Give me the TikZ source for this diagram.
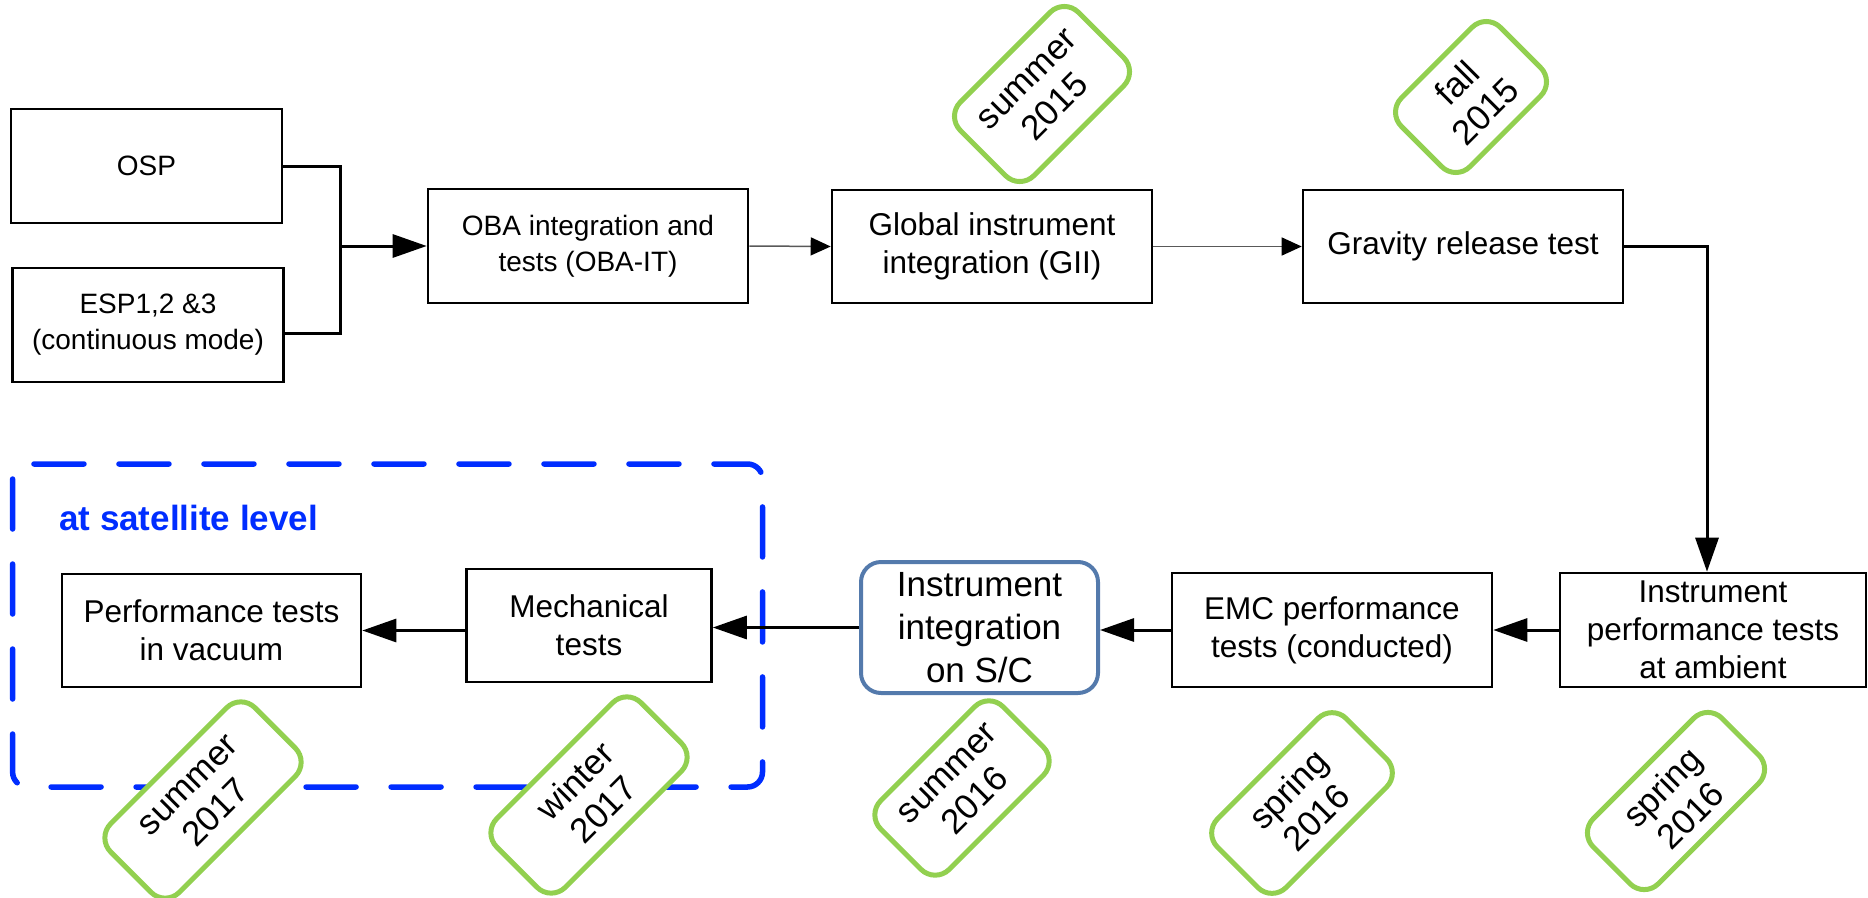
\documentclass[tikz,border=0pt]{standalone}
\usepackage{fontspec}
\setmainfont{Liberation Sans}
\usetikzlibrary{arrows.meta}
\definecolor{taggreen}{RGB}{146,208,80}
\definecolor{scblue}{RGB}{84,122,172}
\definecolor{satblue}{RGB}{0,45,255}
\begin{document}
\begin{tikzpicture}[x=1pt,y=-1pt,
  box/.style={draw=black, line width=2.6pt, align=center, inner sep=0pt,
    font=\fontsize{31.5}{38}\selectfont},
  smallbox/.style={box, font=\fontsize{28}{36}\selectfont},
  tag/.style={draw=taggreen, fill=white, line width=5pt, rounded corners=20pt,
    rotate=45, align=center, inner sep=0pt, minimum height=97pt,
    font=\fontsize{35}{40}\selectfont},
  arr/.style={line width=3pt, -{Triangle[length=34pt,width=23pt]}},
  thinarr/.style={line width=1.5pt, draw=black!65,
    -{Triangle[length=20pt,width=18pt,color=black]}}]
\useasboundingbox (0,0) rectangle (1868,897);

% satellite-level container
\draw[satblue, line width=5.5pt, dash pattern=on 50pt off 35pt, line cap=round,
  rounded corners=15pt] (12.6,464) rectangle (762.5,787);
\node[anchor=base west, text=satblue, inner sep=0pt,
  font=\fontsize{35}{40}\selectfont\bfseries] (sat) at (59,530) {at satellite level};

% top row
\node[smallbox, minimum width=271pt, minimum height=114pt] (osp) at (146.5,166) {OSP};
\node[smallbox, minimum width=271pt, minimum height=114pt] (esp) at (148,325)
  {ESP1,2 \&3\\(continuous mode)};
\node[smallbox, minimum width=320pt, minimum height=114pt] (oba) at (588,246)
  {OBA integration and\\tests (OBA-IT)};
\node[box, minimum width=320pt, minimum height=113pt] (gii) at (992,246.5)
  {Global instrument\\integration (GII)};
\node[box, minimum width=320pt, minimum height=113pt] (grav) at (1463,246.5)
  {Gravity release test};

% bottom row
\node[box, minimum width=306pt, minimum height=114pt] (ipt) at (1713,630)
  {Instrument\\performance tests\\at ambient};
\node[box, minimum width=320pt, minimum height=114pt] (emc) at (1332,630)
  {EMC performance\\tests (conducted)};
\node[box, draw=scblue, line width=4pt, rounded corners=20pt, minimum width=237pt,
  minimum height=131pt, font=\fontsize{35}{43}\selectfont] (sc) at (979.5,627.5)
  {Instrument\\integration\\on S/C};
\node[box, minimum width=245pt, minimum height=113pt] (mech) at (589,625.5)
  {Mechanical\\tests};
\node[box, minimum width=299pt, minimum height=113pt] (perf) at (211.5,630.5)
  {Performance tests\\in vacuum};

% connectors
\coordinate (bus) at (340,246);
\draw[line width=3pt] (osp.east) -| (bus);
\draw[line width=3pt] ([yshift=-8pt]esp.east) -| (bus);
\draw[arr] (bus) -- (oba.west);
\draw[thinarr] (oba.east) -- (gii.west);
\draw[thinarr] (gii.east) -- (grav.west);
\coordinate (turn) at (1707,246.5);
\draw[arr] (grav.east) -- (turn) -- (turn |- ipt.north);
\draw[arr] (ipt.west) -- (emc.east);
\draw[arr] (emc.west) -- (emc.west -| sc.east);
\draw[arr] (sc.west) -- (sc.west -| mech.east);
\draw[arr] (mech.west |- perf.east) -- (perf.east);

% date tags
\node[tag, minimum width=167pt, minimum height=104pt] (t1) at (1042,94) {summer\\2015};
\node[tag, minimum width=140pt] (t2) at (1471,97) {fall\\2015};
\node[tag, minimum width=182pt, minimum height=92pt] (t3) at (1676,801) {spring\\2016};
\node[tag, minimum width=182pt] (t4) at (1302,803) {spring\\2016};
\node[tag, minimum width=173pt] (t5) at (962,788) {summer\\2016};
\node[tag, minimum width=204pt] (t6) at (589,795) {winter\\2017};
\node[tag, minimum width=204pt] (t7) at (203,800) {summer\\2017};
\end{tikzpicture}
\end{document}
